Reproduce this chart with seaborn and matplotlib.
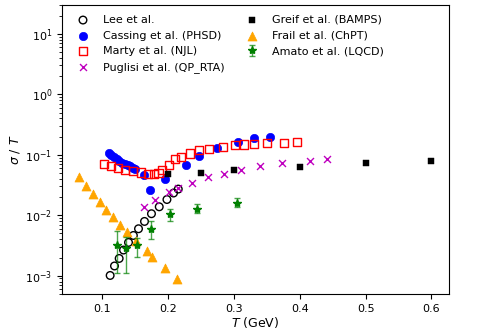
import numpy as np
import pandas as pd
import seaborn as sns
import matplotlib.pyplot as plt


# Lee et al.
T_lee = [0.1117, 0.1183, 0.1254, 0.132, 0.1396, 0.147, 0.1548, 0.1639, 0.1745, 0.1863, 0.198, 0.208, 0.2152]
s_lee = [0.00101, 0.00145, 0.00193, 0.00266, 0.00355, 0.00463, 0.00598, 0.0079, 0.0106, 0.0138, 0.0182, 0.0233, 0.0271]

# Cassing et al. (PHSD)
T_cas = [0.1097, 0.1137, 0.1178, 0.1219, 0.1259, 0.130, 0.1341, 0.1381, 0.1422, 0.1462, 0.1502,
         0.1634, 0.173, 0.195, 0.2269, 0.247, 0.274, 0.3057, 0.3297, 0.355]
s_cas = [0.109, 0.0989, 0.0902, 0.0836, 0.0787, 0.0738, 0.0702, 0.0666, 0.0641, 0.061, 0.058,
         0.0467, 0.0257, 0.0397, 0.0676, 0.0938, 0.13, 0.162, 0.189, 0.20]

# Marty et al. (NJL)
T_mar = [0.1026, 0.1125, 0.1232, 0.1345, 0.1467, 0.1589, 0.1695, 0.1779, 0.1852, 0.1908, 0.2015, 0.2106,
         0.2197, 0.2335, 0.2471, 0.2624, 0.283, 0.3015, 0.3146, 0.3305, 0.3502, 0.376, 0.3958]
s_mar = [0.0692, 0.065, 0.0603, 0.0565, 0.0538, 0.051, 0.0485, 0.0489, 0.0508, 0.0565, 0.0689, 0.0843,
         0.091, 0.105, 0.118, 0.126, 0.136, 0.144, 0.148, 0.150, 0.154, 0.156, 0.160]

# Puglisi et al. (QP_RTA)
T_pug = [0.1627, 0.1797, 0.2013, 0.2142, 0.2365, 0.2597, 0.2851, 0.3102, 0.3389, 0.3729, 0.415, 0.4414]
s_pug = [0.0136, 0.018, 0.0242, 0.0282, 0.0345, 0.0421, 0.0489, 0.0561, 0.0641, 0.0718, 0.0796, 0.0836]

# Greif et al. (BAMPS)
T_gre = [0.2, 0.25, 0.3, 0.4, 0.5, 0.6]
s_gre = [0.0472, 0.0509, 0.0565, 0.0627, 0.073, 0.0787]

# Frail et al. (ChPT)
T_fra = [0.0651, 0.0752, 0.0858, 0.0957, 0.1061, 0.116, 0.1274, 0.1373, 0.1513, 0.167, 0.1759, 0.1949, 0.214]
s_fra = [0.0428, 0.031, 0.0227, 0.0168, 0.0122, 0.0092, 0.00697, 0.0053, 0.00369, 0.00252, 0.00205, 0.00134, 0.00089]

# Amato et al. (LQCD) with asymmetric errors
T_ama = [0.1219, 0.1365, 0.1525, 0.1741, 0.203, 0.2436, 0.3039]
s_ama = [0.00321, 0.0029, 0.00321, 0.0059, 0.0104, 0.01265, 0.01595]
s_ama_lo = [0.00112, 0.00112, 0.00202, 0.00404, 0.0081, 0.01087, 0.01355]
s_ama_hi = [0.0054, 0.0043, 0.00414, 0.0079, 0.0129, 0.0151, 0.0191]

fig, ax = plt.subplots(figsize=(4.99, 3.31), dpi=100)
fig.subplots_adjust(left=0.124, right=0.9, top=0.985, bottom=0.112)

sns.scatterplot(x=T_lee, y=s_lee, marker='o', s=30, facecolor='none', edgecolor='black',
                linewidth=1, ax=ax, label='Lee et al.')
sns.scatterplot(x=T_cas, y=s_cas, marker='o', s=36, color='blue', edgecolor='blue',
                ax=ax, label='Cassing et al. (PHSD)')
sns.scatterplot(x=T_mar, y=s_mar, marker='s', s=34, facecolor='none', edgecolor='red',
                linewidth=1, ax=ax, label='Marty et al. (NJL)')
sns.scatterplot(x=T_pug, y=s_pug, marker='x', s=25, color='m', edgecolor=None,
                linewidth=1, ax=ax, label='Puglisi et al. (QP_RTA)')
sns.scatterplot(x=T_gre, y=s_gre, marker='s', s=16, color='black', edgecolor='black',
                ax=ax, label='Greif et al. (BAMPS)')
sns.scatterplot(x=T_fra, y=s_fra, marker='^', s=42, color='orange', edgecolor='orange',
                ax=ax, label='Frail et al. (ChPT)')

yerr = [np.array(s_ama) - np.array(s_ama_lo), np.array(s_ama_hi) - np.array(s_ama)]
ax.errorbar(T_ama, s_ama, yerr=yerr, fmt='*', color='green', ms=6, capsize=2,
            elinewidth=1, ecolor=(0.0, 0.5, 0.0, 0.7), label='Amato et al. (LQCD)')

ax.set_yscale('log')
ax.set_ylim(5e-4, 30)
ax.set_xlabel(r'$T$ (GeV)', fontsize=9, labelpad=1)
ax.set_ylabel(r'$\sigma\ /\ T$', fontsize=9, labelpad=2)
ax.tick_params(labelsize=8)

ax.legend(ncol=2, frameon=False, loc='upper left', fontsize=8, labelspacing=0.5,
          columnspacing=1.5)

plt.savefig('out.png')
